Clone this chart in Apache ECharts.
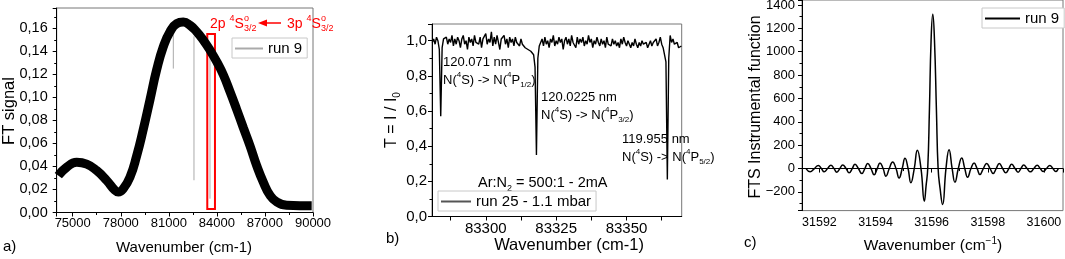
<!DOCTYPE html>
<html lang="en">
<head>
<meta charset="UTF-8">
<title>FT spectra - run 9 / run 25</title>
<script src="https://cdn.jsdelivr.net/npm/echarts@6/dist/echarts.min.js"></script>
<style>
  html, body { margin: 0; padding: 0; background: #fff; }
  #chart { width: 1065px; height: 259px; }
</style>
</head>
<body>
<div id="chart"></div>
<script>
// ---- a) broadband FT signal, centre of the noisy band
var aWave = [74100, 74624, 75248, 75873, 76497, 77121, 77639, 77845, 78157, 78575,
             78994, 79406, 79824, 80242, 80654, 81072, 81491, 81903, 82321, 82739,
             83151, 83570, 83988, 84400, 84818, 85236, 85648, 86066, 86484, 86896,
             87315, 87733, 88357, 89187, 89918];
var aSignal = [0.032, 0.0393, 0.0436, 0.042, 0.0364, 0.0278, 0.0192, 0.0178, 0.0206, 0.0307,
               0.0493, 0.0723, 0.098, 0.124, 0.144, 0.157, 0.164, 0.1654, 0.1626, 0.157,
               0.1497, 0.141, 0.131, 0.1196, 0.105, 0.0895, 0.0737, 0.058, 0.0407, 0.0264,
               0.0149, 0.0092, 0.0063, 0.0059, 0.0059];
// a) grey absorption lines of run 9 ('-' breaks the line)
var aLineWave = [81280, 81280, 81280, 82570, 82570, 82570, 83570, 83570];
var aLineSignal = [0.163, 0.125, '-', 0.153, 0.028, '-', 0.138, 0.012];
// a) red box around the 2p-3p line
var aBoxWave = [83400, 83880];
var aBoxSignal = [0.003, 0.155];

// ---- b) transmission, run 25, sampled every 0.5 cm-1 from 83281
var bStart = 83281;
var bStep = 0.5;
var bTrans = [
  0.99, 1.01, 0.98, 1.02, 1.00, 0.95, 0.57, 0.96, 1.01, 1.00,
  1.02, 0.98, 1.01, 0.99, 1.03, 0.97, 1.01, 0.98, 1.02, 1.00,
  0.96, 1.01, 1.03, 0.98, 1.00, 0.95, 1.02, 0.99, 1.01, 0.97,
  1.03, 0.99, 1.00, 0.98, 1.02, 0.96, 1.01, 1.00, 1.04, 0.98,
  1.01, 0.99, 1.05, 0.97, 1.02, 0.98, 1.03, 0.99, 0.95, 1.01,
  1.00, 1.03, 0.98, 1.01, 0.96, 1.02, 0.99, 1.01, 0.97, 1.02,
  0.99, 1.00, 0.97, 1.01, 0.98, 0.99, 0.96, 0.97, 0.95, 0.96,
  0.94, 0.93, 0.92, 0.85, 0.35, 0.90, 0.97, 0.99, 1.01, 0.97,
  1.02, 0.98, 1.00, 0.96, 1.01, 0.99, 1.03, 0.97, 1.00, 0.98,
  1.02, 0.99, 1.01, 0.95, 1.00, 1.02, 0.98, 1.01, 0.97, 1.03,
  0.99, 1.00, 0.96, 1.02, 0.98, 1.01, 0.99, 1.02, 0.97, 1.00,
  0.98, 1.03, 0.99, 1.01, 0.96, 1.00, 0.98, 1.02, 0.99, 0.97,
  1.01, 0.98, 1.00, 0.96, 1.02, 0.98, 0.99, 0.97, 1.01, 0.98,
  1.00, 0.97, 0.99, 0.96, 1.01, 0.98, 1.02, 0.99, 0.97, 1.00,
  0.98, 0.96, 0.99, 0.97, 1.01, 0.98, 0.96, 0.99, 0.97, 1.00,
  0.98, 0.97, 0.99, 0.96, 0.98, 1.00, 0.97, 0.99, 0.98, 1.01,
  0.97, 0.99, 1.02, 0.98, 0.96, 0.95, 0.88, 0.21, 0.90, 1.03,
  0.99, 1.01, 0.98, 0.97, 0.99, 0.96, 0.97, 0.97
];
var bTicks = [83287.5, 83300, 83312.5, 83325, 83337.5, 83350, 83362.5];
var bTickLabels = [83300, 83325, 83350];

// ---- c) FTS instrumental function, run 9
var cWave = [31591.53, 31591.67, 31591.82, 31591.96, 31592.07, 31592.17, 31592.29, 31592.41, 31592.52, 31592.62,
             31592.73, 31592.83, 31592.95, 31593.06, 31593.17, 31593.27, 31593.39, 31593.51, 31593.62, 31593.72,
             31593.84, 31593.95, 31594.06, 31594.16, 31594.27, 31594.37, 31594.49, 31594.61, 31594.73, 31594.84,
             31594.95, 31595.05, 31595.16, 31595.26, 31595.38, 31595.49, 31595.62, 31595.74, 31595.80, 31595.86,
             31595.92, 31595.98, 31596.04, 31596.10, 31596.17, 31596.23, 31596.30, 31596.39, 31596.51, 31596.62,
             31596.73, 31596.83, 31596.95, 31597.07, 31597.18, 31597.28, 31597.40, 31597.51, 31597.62, 31597.72,
             31597.84, 31597.96, 31598.08, 31598.19, 31598.30, 31598.41, 31598.53, 31598.64, 31598.75, 31598.85,
             31598.97, 31599.08, 31599.18, 31599.28, 31599.40, 31599.52, 31599.64, 31599.76, 31599.87, 31599.97,
             31600.09, 31600.21, 31600.32, 31600.42, 31600.51];
var cFunc = [-3, -28, 0, 26, 0, -28, 0, 28, 0, -31,
             0, 31, 0, -37, 0, 37, 0, -43, 0, 43,
             0, -54, 0, 48, 0, -65, 0, 57, 0, -80,
             0, 88, 0, -122, 0, 157, 0, -279, -150, 0,
             500, 1100, 1320, 1100, 500, 0, -170, -308, 0, 162,
             0, -117, 0, 91, 0, -74, 0, 48, 0, -51,
             0, 43, 0, -43, 0, 43, 0, -37, 0, 37,
             0, -31, 0, 31, 0, -28, 0, 28, 0, -26,
             0, 26, 0, -26, -3];

var FONT = 'Liberation Sans';

function zip(xs, ys) {
    return xs.map(function (x, i) { return [x, ys[i]]; });
}
function comma(d) {
    return function (v) { return v.toFixed(d).replace('.', ','); };
}
function plain(v) {
    return v < 0 ? '\u2212' + (-v) : String(v);
}
// one value axis in the black Origin style
function axis(gridIndex, fontSize, extra, label) {
    var a = {
        type: 'value',
        gridIndex: gridIndex,
        axisLine: { show: true, lineStyle: { color: '#000', width: 1 } },
        axisTick: { show: true, length: 4, lineStyle: { color: '#000' } },
        minorTick: { show: true, splitNumber: 2, length: 2.5, lineStyle: { color: '#000' } },
        splitLine: { show: false },
        minorSplitLine: { show: false },
        axisLabel: Object.assign({ color: '#000', fontFamily: FONT, fontSize: fontSize }, label)
    };
    return Object.assign(a, extra);
}
function txt(x, y, text, size, extra) {
    return Object.assign({
        type: 'text', x: x, y: y, silent: true,
        style: {
            text: text, fill: '#000', fontFamily: FONT, fontSize: size,
            align: 'left', verticalAlign: 'middle', lineHeight: size + 5,
            rich: {
                sup: { fontSize: Math.round(size * 0.65), verticalAlign: 'top', fill: '#000' },
                sub: { fontSize: Math.round(size * 0.65), verticalAlign: 'bottom', fill: '#000' }
            }
        }
    }, extra || {});
}

var legendBase = {
    selectedMode: false,
    icon: 'rect',
    itemHeight: 2,
    backgroundColor: '#fff',
    borderColor: '#c8c8c8',
    borderWidth: 1,
    padding: [3, 5, 2, 3],
    textStyle: { color: '#000', fontFamily: FONT, fontSize: 15 }
};

var chart = echarts.init(document.getElementById('chart'));

chart.setOption({
    animation: false,
    backgroundColor: '#fff',
    grid: [
        { left: 56.7, top: 8, width: 256.3, height: 204.5, show: true, borderColor: '#777', borderWidth: 1, outerBoundsMode: 'none', containLabel: false },
        { left: 432, top: 24, width: 249.7, height: 192.5, show: true, borderColor: '#777', borderWidth: 1, outerBoundsMode: 'none', containLabel: false },
        { left: 802, top: 0, width: 261, height: 210.6, show: true, borderColor: '#777', borderWidth: 1, outerBoundsMode: 'none', containLabel: false }
    ],
    xAxis: [
        axis(0, 13, { min: 74000, max: 90000, splitNumber: 5 },
             { formatter: plain, showMinLabel: false, margin: 4 }),
        axis(1, 15, { min: 83280.9, max: 83369.6,
                      axisTick: { show: true, length: 4, customValues: bTicks, lineStyle: { color: '#000' } },
                      minorTick: { show: false } },
             { customValues: bTickLabels, formatter: plain, margin: 5 }),
        axis(2, 12.5, { min: 31591.38, max: 31600.68, splitNumber: 5 },
             { formatter: plain, showMinLabel: false, showMaxLabel: false, margin: 5 })
    ],
    yAxis: [
        axis(0, 14.5, { min: 0, max: 0.1776, splitNumber: 9 },
             { formatter: comma(2), showMaxLabel: false, margin: 9 }),
        axis(1, 15, { min: 0, max: 1.095, splitNumber: 5 },
             { formatter: comma(1), showMaxLabel: false, margin: 5 }),
        axis(2, 13, { min: -360, max: 1443, splitNumber: 9 },
             { formatter: plain, showMinLabel: false, showMaxLabel: false, margin: 7 })
    ],
    legend: [
        Object.assign({}, legendBase, { left: 232, top: 38, itemWidth: 28,
            data: [{ name: 'run 9', itemStyle: { color: '#aaaaaa' } }] }),
        Object.assign({}, legendBase, { left: 438, top: 191, itemWidth: 30,
            data: [{ name: 'run 25 - 1.1 mbar', itemStyle: { color: '#555555' } }] }),
        Object.assign({}, legendBase, { left: 982, top: 8, itemWidth: 35,
            data: [{ name: 'run 9', itemStyle: { color: '#000000' } }] })
    ],
    series: [
        {
            name: 'run 9', type: 'line', xAxisIndex: 0, yAxisIndex: 0,
            symbol: 'none', connectNulls: false,
            lineStyle: { color: '#aaaaaa', width: 1 }, itemStyle: { color: '#aaaaaa' },
            data: zip(aLineWave, aLineSignal), z: 2
        },
        {
            name: 'FT signal', type: 'line', xAxisIndex: 0, yAxisIndex: 0,
            symbol: 'none', smooth: true,
            lineStyle: { color: '#000', width: 9 }, itemStyle: { color: '#000' },
            data: zip(aWave, aSignal), z: 3,
            markArea: {
                silent: true,
                itemStyle: { color: 'rgba(0,0,0,0)', borderColor: '#ff0000', borderWidth: 2 },
                data: [[{ xAxis: aBoxWave[0], yAxis: aBoxSignal[0] }, { xAxis: aBoxWave[1], yAxis: aBoxSignal[1] }]]
            }
        },
        {
            name: 'run 25 - 1.1 mbar', type: 'line', xAxisIndex: 1, yAxisIndex: 1,
            symbol: 'none',
            lineStyle: { color: '#000', width: 1.4 }, itemStyle: { color: '#555555' },
            data: bTrans.map(function (v, i) { return [bStart + i * bStep, v]; })
        },
        {
            name: 'run 9', type: 'line', xAxisIndex: 2, yAxisIndex: 2,
            symbol: 'none', smooth: true,
            lineStyle: { color: '#000', width: 1.5 }, itemStyle: { color: '#000' },
            data: zip(cWave, cFunc)
        }
    ],
    graphic: [
        // panel letters
        txt(3, 247, 'a)', 15),
        txt(386, 239, 'b)', 15),
        txt(744, 243, 'c)', 15),
        // axis titles
        txt(184, 248, 'Wavenumber (cm-1)', 15, { style: { text: 'Wavenumber (cm-1)', fontFamily: FONT, fontSize: 15, fill: '#000', align: 'center', verticalAlign: 'middle' } }),
        txt(569, 245, 'Wavenumber (cm-1)', 16, { style: { text: 'Wavenumber (cm-1)', fontFamily: FONT, fontSize: 16.5, fill: '#000', align: 'center', verticalAlign: 'middle' } }),
        (function () {
            var t = txt(933, 246, 'Wavenumber (cm{sup|\u22121})', 15.5);
            t.style.align = 'center';
            return t;
        })(),
        (function () {
            var t = txt(9, 111, 'FT signal', 16.5, { rotation: Math.PI / 2 });
            t.style.align = 'center';
            return t;
        })(),
        (function () {
            var t = txt(392, 120, 'T = I / I{sub|0}', 16, { rotation: Math.PI / 2 });
            t.style.align = 'center';
            return t;
        })(),
        (function () {
            var t = txt(756, 107, 'FTS Instrumental function', 16, { rotation: Math.PI / 2 });
            t.style.align = 'center';
            return t;
        })(),
        // b) line assignments
        txt(443, 71, '120.071 nm\nN({sup|4}S) -> N({sup|4}P{sub|1/2})', 13),
        txt(541, 106, '120.0225 nm\nN({sup|4}S) -> N({sup|4}P{sub|3/2})', 13),
        txt(622, 148, '119.955 nm\nN({sup|4}S) -> N({sup|4}P{sub|5/2})', 13),
        txt(478, 183, 'Ar:N{sub|2} = 500:1 - 2mA', 14.5),
        // a) red transition label
        (function () {
            var t = txt(210, 24, '2p {sup|4}S', 14);
            t.style.fill = '#ff0000';
            t.style.rich.sup.fill = '#ff0000';
            return t;
        })(),
        { type: 'text', x: 244, y: 24, silent: true,
          style: { text: 'o\n3/2', fill: '#ff0000', fontFamily: FONT, fontSize: 9, lineHeight: 10, align: 'left', verticalAlign: 'middle' } },
        (function () {
            var t = txt(287, 24, '3p {sup|4}S', 14);
            t.style.fill = '#ff0000';
            t.style.rich.sup.fill = '#ff0000';
            return t;
        })(),
        { type: 'text', x: 321, y: 24, silent: true,
          style: { text: 'o\n3/2', fill: '#ff0000', fontFamily: FONT, fontSize: 9, lineHeight: 10, align: 'left', verticalAlign: 'middle' } },
        { type: 'line', silent: true, shape: { x1: 281, y1: 23, x2: 265, y2: 23 },
          style: { stroke: '#ff0000', lineWidth: 1.5 } },
        { type: 'polygon', silent: true, shape: { points: [[258, 23], [267, 19.5], [267, 26.5]] },
          style: { fill: '#ff0000' } }
    ]
});
</script>
</body>
</html>
